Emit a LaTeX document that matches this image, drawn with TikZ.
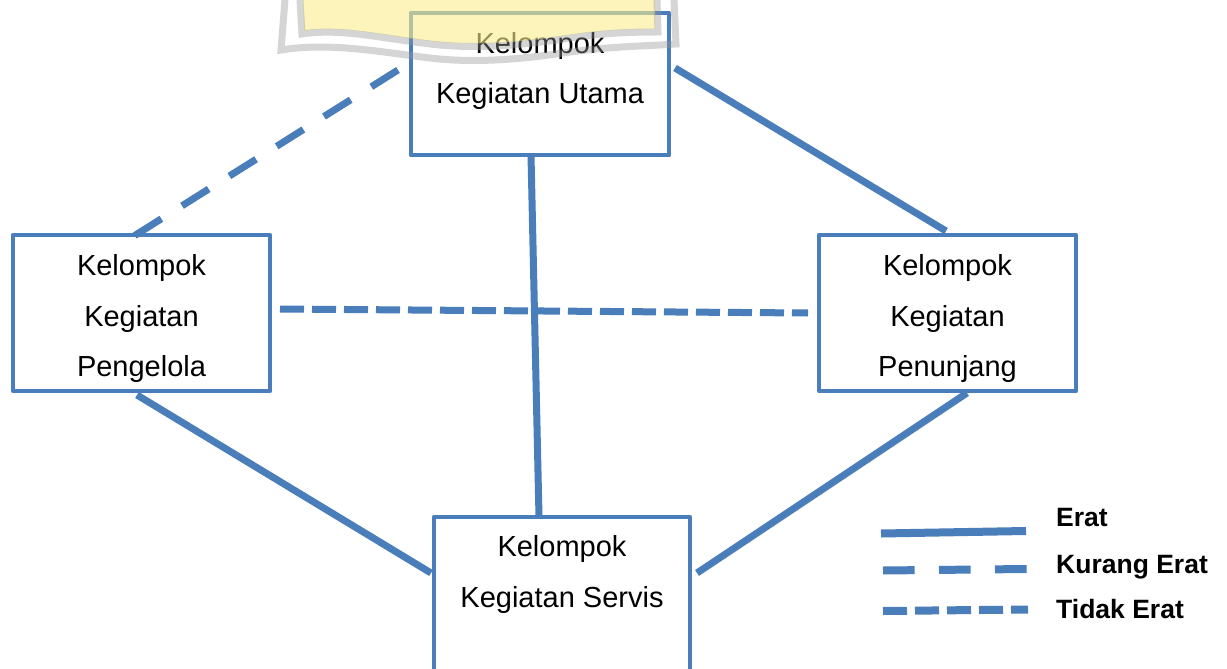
\documentclass[tikz,border=0pt]{standalone}
\usepackage{fontspec}
\setmainfont{Liberation Sans}
\definecolor{lineblue}{RGB}{74,126,187}
\definecolor{wmyellow}{RGB}{250,238,140}
\definecolor{wmgray}{RGB}{150,150,150}
\tikzset{
  box/.style={draw=lineblue, line width=4.5pt, rectangle, inner sep=0pt, line join=round},
  lbl/.style={anchor=base, inner sep=0pt, font=\fontsize{29}{34}\selectfont, text=black},
  legtxt/.style={anchor=base west, inner sep=0pt, font=\fontsize{26.5}{30}\selectfont\bfseries, text=black},
  erat/.style={draw=lineblue, line width=7pt},
  kurang/.style={draw=lineblue, line width=7pt, dash pattern=on 31.5pt off 24.4pt},
  tidak/.style={draw=lineblue, line width=7pt, dash pattern=on 24pt off 8pt},
  wmfill/.style={fill=wmyellow, fill opacity=0.6},
  wmline/.style={draw=wmgray, draw opacity=0.4, line width=7pt},
}
\begin{document}
\begin{tikzpicture}[x=1pt,y=-1pt]
\useasboundingbox (0,0) rectangle (1227,669);
\clip (0,0) rectangle (1227,669);
\fill[white] (0,0) rectangle (1227,669);

% boxes
\node[box, minimum width=258pt, minimum height=142pt] (utama) at (540,84) {};
\node[box, minimum width=257pt, minimum height=156pt] (pengelola) at (141.5,313) {};
\node[box, minimum width=257pt, minimum height=156pt] (penunjang) at (947.5,313) {};
\node[box, minimum width=256pt, minimum height=200pt] (servis) at (562,617) {};

% texts
\node[lbl] (utama1) at (540,54) {Kelompok};
\node[lbl] (utama2) at (540,103) {Kegiatan Utama};
\node[lbl] (peng1) at (141.5,275) {Kelompok};
\node[lbl] (peng2) at (141.5,326) {Kegiatan};
\node[lbl] (peng3) at (141.5,376) {Pengelola};
\node[lbl] (pen1) at (947.5,275) {Kelompok};
\node[lbl] (pen2) at (947.5,326) {Kegiatan};
\node[lbl] (pen3) at (947.5,376) {Penunjang};
\node[lbl] (serv1) at (562,556) {Kelompok};
\node[lbl] (serv2) at (562,607) {Kegiatan Servis};

% connector end points
\coordinate (uL) at (398,70);
\coordinate (pgT) at (134,236);
\coordinate (uR) at (675,68);
\coordinate (pnT) at (946,231);
\coordinate (uB) at (531,155);
\coordinate (sT) at (539,517);
\coordinate (pgR) at (280,309);
\coordinate (pnL) at (808,313);
\coordinate (pgB) at (137,395);
\coordinate (sL) at (431,573);
\coordinate (pnB) at (967,393);
\coordinate (sR) at (697,573);

\draw[kurang] (uL) -- (pgT);
\draw[erat] (uR) -- (pnT);
\draw[erat] (uB) -- (sT);
\draw[tidak] (pgR) -- (pnL);
\draw[erat] (pgB) -- (sL);
\draw[erat] (pnB) -- (sR);

% legend
\coordinate (l1a) at (881,533.5);
\coordinate (l1b) at (1026,531);
\coordinate (l2a) at (883,570.5);
\coordinate (l2b) at (1027,569);
\coordinate (l3a) at (883,611);
\coordinate (l3b) at (1028,609.5);
\draw[erat, line width=8pt] (l1a) -- (l1b);
\draw[kurang, line width=8pt, dash pattern=on 31.7pt off 24.3pt] (l2a) -- (l2b);
\draw[tidak, line width=8pt] (l3a) -- (l3b);
\node[legtxt] (legErat) at (1056,526) {Erat};
\node[legtxt] (legKurang) at (1056,573) {Kurang Erat};
\node[legtxt] (legTidak) at (1056,618) {Tidak Erat};

% faint watermark over the top
\fill[wmfill] (303,0) -- (304,31) .. controls (340,25) and (380,35) .. (430,41)
  .. controls (480,47) and (530,41) .. (570,35) .. controls (610,29) and (640,29) .. (655,29) -- (655,0) -- cycle;
\draw[wmline] (300,0) -- (302,34) .. controls (340,28) and (380,38) .. (430,44)
  .. controls (480,50) and (530,44) .. (570,38) .. controls (610,32) and (640,32) .. (658,32) -- (657,0);
\draw[wmline] (285,0) -- (281,50) .. controls (330,42) and (380,52) .. (430,58)
  .. controls (480,64) and (530,58) .. (570,52) .. controls (615,46) and (650,46) .. (676,44) -- (674,0);
\end{tikzpicture}
\end{document}
